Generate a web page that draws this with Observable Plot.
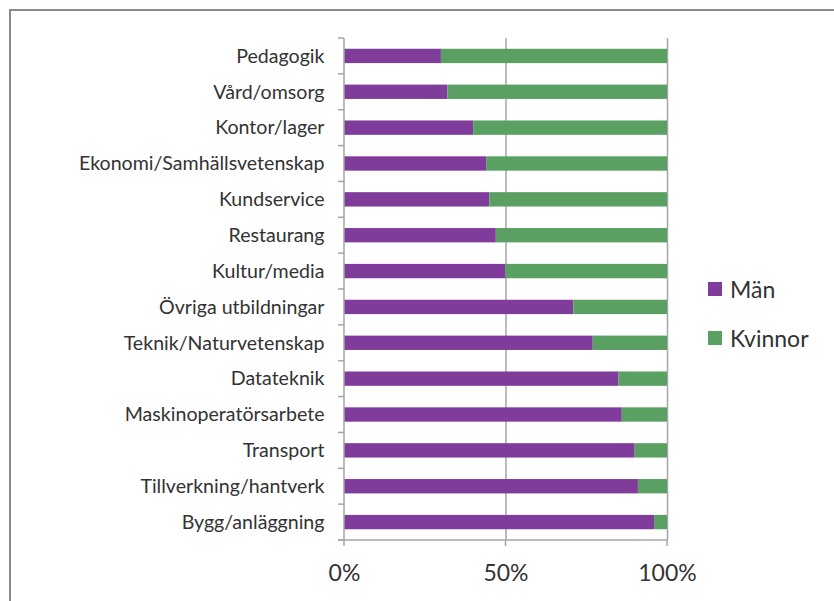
<!DOCTYPE html>
<html>
<head>
<meta charset="utf-8">
<script src="https://cdn.jsdelivr.net/npm/d3@7"></script>
<script src="https://cdn.jsdelivr.net/npm/@observablehq/plot@0.6"></script>
<style>
  html, body { margin: 0; padding: 0; background: #fff; }
  #wrap { position: relative; width: 834px; height: 601px; overflow: hidden; font-family: Lato, "Open Sans", sans-serif; }
  #border { position: absolute; left: 9px; top: 9px; width: 900px; height: 700px; border-left: 2px solid #8a8a8a; border-top: 2px solid #8a8a8a; }
  #chart { position: absolute; left: 0; top: 0; }
  #legend { position: absolute; left: 708px; top: 274px; color: #333; font-size: 23px; }
  .item { display: flex; align-items: center; height: 30px; margin-bottom: 19px; }
  .sw { width: 14px; height: 14px; margin-right: 8px; }
</style>
</head>
<body>
<div id="wrap">
  <div id="border"></div>
  <div id="chart"></div>
  <div id="legend"></div>
</div>
<script>
const categories = [
  "Pedagogik", "Vård/omsorg", "Kontor/lager", "Ekonomi/Samhällsvetenskap",
  "Kundservice", "Restaurang", "Kultur/media", "Övriga utbildningar",
  "Teknik/Naturvetenskap", "Datateknik", "Maskinoperatörsarbete",
  "Transport", "Tillverkning/hantverk", "Bygg/anläggning"
];
const man =     [30, 32, 40, 44, 45, 47, 50, 71, 77, 85, 86, 90, 91, 96];
const kvinnor = [70, 68, 60, 56, 55, 53, 50, 29, 23, 15, 14, 10,  9,  4];
const seriesNames = ["Män", "Kvinnor"];
const seriesColors = ["#7f3c9a", "#5aa063"];
const xTicks = [0, 50, 100];

const rows = [];
categories.forEach((c, i) => {
  rows.push({kategori: c, kon: seriesNames[0], andel: man[i]});
  rows.push({kategori: c, kon: seriesNames[1], andel: kvinnor[i]});
});

const axisColor = "#a6a6a6";
const textColor = "#333333";

const plot = Plot.plot({
  width: 834,
  height: 601,
  marginLeft: 344,
  marginRight: 167,
  marginTop: 38,
  marginBottom: 61,
  style: {fontFamily: "Lato, 'Open Sans', sans-serif", fontSize: "19px", color: textColor, background: "transparent"},
  x: {domain: [0, 100], ticks: xTicks, label: null},
  y: {domain: categories, paddingInner: 0.6, paddingOuter: 0.3, round: false, label: null},
  color: {domain: seriesNames, range: seriesColors},
  marks: [
    Plot.gridX(xTicks.slice(1), {stroke: axisColor, strokeOpacity: 1, strokeWidth: 1.5}),
    Plot.barX(rows, Plot.stackX({y: "kategori", x: "andel", fill: "kon", order: null})),
    Plot.axisY({tickSize: 0, tickPadding: 20, fontSize: 19.6, fill: textColor, label: null}),
    Plot.axisX(xTicks, {tickSize: 0, tickPadding: 24, fontSize: 23, fill: textColor, label: null, tickFormat: d => d + "%"})
  ]
});
document.getElementById("chart").appendChild(plot);

// axis lines and tick marks from the plot's own scales
const xs = plot.scale("x"), ys = plot.scale("y");
const svg = d3.select(plot);
const x0 = xs.apply(0);
const step = ys.bandwidth / (1 - 0.6);
const yTop = ys.apply(categories[0]) - (step - ys.bandwidth) / 2;
const bounds = d3.range(categories.length + 1).map(i => yTop + i * step);
const yBottom = bounds[bounds.length - 1];
const g = svg.append("g").attr("stroke", axisColor).attr("stroke-width", 1.5);
g.append("line").attr("x1", x0).attr("x2", x0).attr("y1", yTop).attr("y2", yBottom);
g.selectAll(".yt").data(bounds).join("line")
  .attr("x1", x0 - 6).attr("x2", x0).attr("y1", d => d).attr("y2", d => d);
g.append("line").attr("x1", x0 - 6).attr("x2", xs.apply(100)).attr("y1", yBottom).attr("y2", yBottom);
g.selectAll(".xt").data(xTicks).join("line")
  .attr("x1", d => xs.apply(d)).attr("x2", d => xs.apply(d)).attr("y1", yBottom).attr("y2", yBottom + 6);

// legend
const leg = d3.select("#legend");
seriesNames.forEach((n, i) => {
  const it = leg.append("div").attr("class", "item");
  it.append("div").attr("class", "sw").style("background", seriesColors[i]);
  it.append("span").text(n);
});
</script>
</body>
</html>
